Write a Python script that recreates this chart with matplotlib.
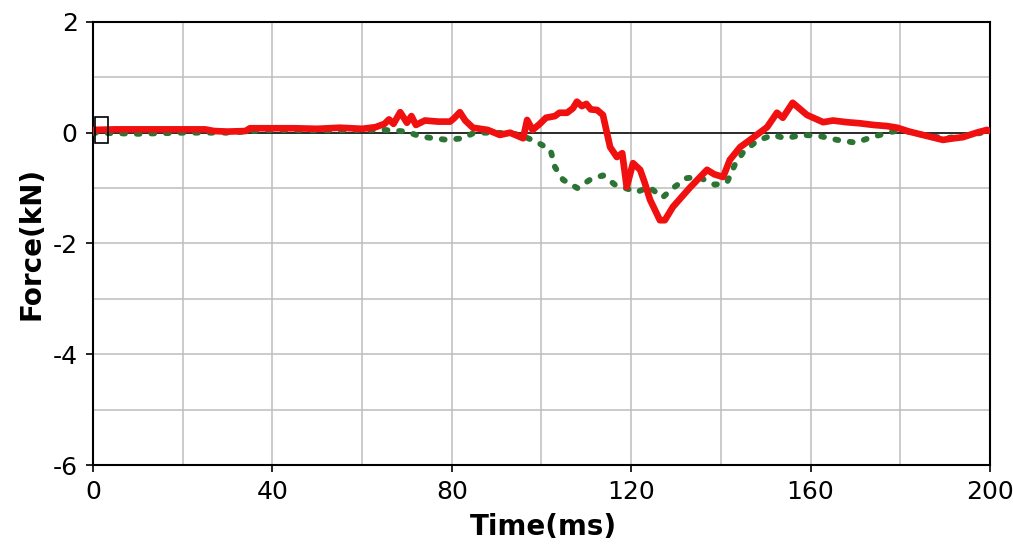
import numpy as np
import matplotlib
matplotlib.use('Agg')
import matplotlib.pyplot as plt
from matplotlib.patches import Rectangle

plt.rcParams['axes.unicode_minus'] = False

# red trace (time ms, force kN)
t_red = [0, 5, 10, 15, 20, 25, 27, 30, 34, 35, 40, 45, 50, 55, 60, 63, 65, 66, 67, 68.5, 70,
         71, 72, 74, 77, 79.6, 80.5, 81.8, 83, 84.7, 88, 90.7, 93, 95.9, 96.8, 98, 99.5,
         101, 103, 104, 105.7, 107, 107.9, 109, 110, 111, 112.4, 113.7, 115.3, 116.8,
         118, 119, 120.4, 122, 123, 124.2, 126.4, 127.5, 129.3, 133, 136.9, 138.5, 140.5,
         142, 144.3, 147, 150.3, 152.5, 153.8, 156, 159.2, 162.8, 165, 168, 171, 174,
         177, 179.3, 182, 185, 189.5, 192, 194, 197, 199.3, 200]
f_red = [0.05, 0.06, 0.06, 0.06, 0.06, 0.06, 0.03, 0.02, 0.03, 0.08, 0.08, 0.08, 0.07, 0.09,
         0.07, 0.10, 0.16, 0.24, 0.16, 0.37, 0.18, 0.30, 0.14, 0.22, 0.20, 0.20, 0.26, 0.37,
         0.22, 0.09, 0.05, -0.04, 0.00, -0.10, 0.23, 0.05, 0.15, 0.27, 0.30, 0.36, 0.36,
         0.44, 0.56, 0.48, 0.52, 0.42, 0.41, 0.32, -0.26, -0.44, -0.37, -0.98, -0.55, -0.67,
         -0.90, -1.21, -1.58, -1.58, -1.34, -1.00, -0.67, -0.75, -0.80, -0.49, -0.26, -0.10,
         0.10, 0.36, 0.27, 0.54, 0.32, 0.19, 0.22, 0.19, 0.17, 0.14, 0.12, 0.09, 0.02,
         -0.04, -0.13, -0.10, -0.08, 0.00, 0.05, 0.03]

# green dotted trace
t_grn = [0, 10, 20, 30, 40, 50, 60, 65, 70, 73, 76, 79, 82.5, 85, 90, 95, 99, 102, 103,
         104.8, 108, 110.8, 113.7, 116.4, 121.3, 124, 127, 129.3, 132.4, 135, 138.7, 141.4,
         143.1, 145, 148, 151.6, 154.3, 158.3, 162, 165.9, 170, 173.7, 177.3, 180, 185, 190,
         195, 200]
f_grn = [0.0, -0.02, 0.0, 0.0, 0.05, 0.04, 0.05, 0.05, 0.02, -0.07, -0.10, -0.13, -0.10,
         0.0, 0.0, -0.03, -0.17, -0.31, -0.62, -0.85, -1.00, -0.85, -0.77, -0.94, -1.07,
         -0.98, -1.17, -1.00, -0.82, -0.80, -0.94, -0.89, -0.58, -0.35, -0.15, -0.04, -0.10,
         -0.04, -0.06, -0.13, -0.18, -0.08, 0.0, 0.05, -0.04, -0.10, -0.05, 0.03]

xticks = [0, 40, 80, 120, 160, 200]
yticks = [-6, -4, -2, 0, 2]

fig = plt.figure(figsize=(10.13, 5.47), dpi=100)
ax = fig.add_axes([0.0918, 0.1499, 0.8855, 0.81])

ax.axhline(0, color='black', lw=1.1, zorder=2)
ax.plot(t_grn, f_grn, color='#2c7433', lw=4.2, dashes=(0.5, 2.0),
        dash_capstyle='round', zorder=3)
ax.plot(t_red, f_red, color='#f01010', lw=4.8, solid_joinstyle='round',
        solid_capstyle='round', zorder=4)
ax.add_patch(Rectangle((0.45, -0.19), 2.85, 0.47, fill=False, ec='black', lw=1.2, zorder=5))

ax.set_xlim(0, 200)
ax.set_ylim(-6, 2)
ax.set_xticks(xticks)
ax.set_yticks(yticks)
ax.set_xticks(np.arange(0, 201, 20), minor=True)
ax.set_yticks(np.arange(-6, 3, 1), minor=True)
ax.grid(which='both', color='#bdbdbd', lw=1.1)
ax.tick_params(which='minor', length=0)
ax.tick_params(which='major', direction='out', length=5, width=1.2, labelsize=18, pad=6)
for s in ax.spines.values():
    s.set_linewidth(1.5)
    s.set_color('black')

ax.set_xlabel('Time(ms)', fontsize=20, fontweight='bold', va='center')
ax.set_ylabel('Force(kN)', fontsize=20, fontweight='bold', va='center')
ax.xaxis.set_label_coords(0.502, -0.14)
ax.yaxis.set_label_coords(-0.069, 0.5)

plt.savefig('out.png', dpi=100)
